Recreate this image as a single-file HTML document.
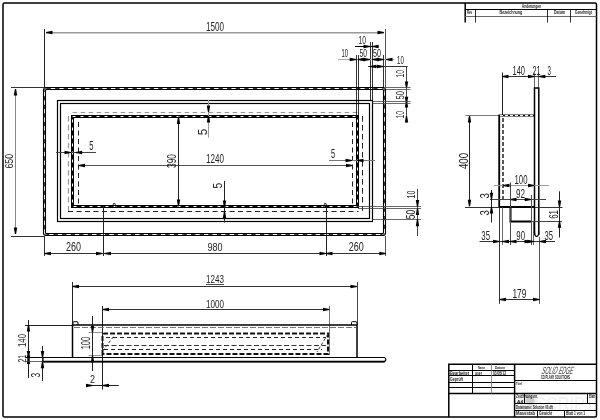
<!DOCTYPE html>
<html><head><meta charset="utf-8"><style>
html,body{margin:0;padding:0;background:#fff;}
svg{display:block;font-family:"Liberation Sans",sans-serif;will-change:transform;}
</style></head><body>
<svg width="600" height="420" viewBox="0 0 600 420">
<rect width="600" height="420" fill="#fff"/>
<rect x="3" y="3" width="593.5" height="414" rx="1.5" stroke="#000" stroke-width="1.5" fill="none"/>
<line x1="465.2" y1="3" x2="465.2" y2="22.6" stroke="#000" stroke-width="1.5"/>
<line x1="465" y1="9.5" x2="596.5" y2="9.5" stroke="#000" stroke-width="1.2"/>
<line x1="465" y1="16.5" x2="596.5" y2="16.5" stroke="#666" stroke-width="1"/>
<line x1="475.5" y1="9" x2="475.5" y2="22.5" stroke="#000" stroke-width="0.8"/>
<line x1="547.5" y1="9" x2="547.5" y2="22.5" stroke="#000" stroke-width="0.8"/>
<line x1="570.5" y1="9" x2="570.5" y2="22.5" stroke="#000" stroke-width="0.8"/>
<text x="521.8" y="7.9" font-size="4.78" textLength="19.300000000000068" lengthAdjust="spacingAndGlyphs" fill="#222" font-weight="bold">Änderungen</text>
<text x="467" y="14" font-size="4.64" textLength="5.199999999999989" lengthAdjust="spacingAndGlyphs" fill="#222" font-weight="bold">Rev</text>
<text x="499.6" y="14" font-size="5.07" textLength="22.699999999999932" lengthAdjust="spacingAndGlyphs" fill="#222" font-weight="bold">Bezeichnung</text>
<text x="553.9" y="14" font-size="4.78" textLength="11.100000000000023" lengthAdjust="spacingAndGlyphs" fill="#222" font-weight="bold">Datum</text>
<text x="574.9" y="14" font-size="4.78" textLength="16.899999999999977" lengthAdjust="spacingAndGlyphs" fill="#222" font-weight="bold">Genehmigt</text>
<rect x="43.5" y="87.5" width="342" height="148" rx="2.5" stroke="#000" stroke-width="1.1" fill="none"/>
<rect x="45.5" y="89.5" width="338" height="144" rx="1" stroke="#000" stroke-width="1.1" fill="none"/>
<rect x="44.5" y="88.5" width="340" height="146" rx="2" stroke="#333" stroke-width="1" fill="none" stroke-dasharray="4.3 4.3"/>
<rect x="57.5" y="100.5" width="315" height="121" rx="0" stroke="#000" stroke-width="1.2" fill="none"/>
<rect x="60.5" y="103.5" width="309" height="115" rx="0" stroke="#000" stroke-width="1.2" fill="none"/>
<rect x="72.5" y="116.5" width="285" height="90" rx="0" stroke="#000" stroke-width="3" fill="none"/>
<rect x="72.5" y="116.5" width="285" height="90" rx="0" stroke="#fff" stroke-width="1" fill="none" stroke-dasharray="3 5"/>
<line x1="72.7" y1="112.5" x2="358" y2="112.5" stroke="#999" stroke-width="1.2" stroke-dasharray="4.5 3.5"/>
<line x1="68.5" y1="116" x2="68.5" y2="211" stroke="#999" stroke-width="1.2" stroke-dasharray="5.5 3.5"/>
<line x1="68" y1="211.5" x2="358.5" y2="211.5" stroke="#222" stroke-width="1" stroke-dasharray="5 3.5"/>
<line x1="78.5" y1="122" x2="78.5" y2="204" stroke="#222" stroke-width="1" stroke-dasharray="5 3.5"/>
<line x1="352.5" y1="122" x2="352.5" y2="204" stroke="#222" stroke-width="1" stroke-dasharray="5 3.5"/>
<line x1="362.5" y1="116" x2="362.5" y2="211" stroke="#222" stroke-width="1" stroke-dasharray="5.5 3.5"/>
<line x1="44.5" y1="29" x2="44.5" y2="88" stroke="#222" stroke-width="1"/>
<line x1="385.5" y1="29" x2="385.5" y2="88" stroke="#555" stroke-width="1"/>
<line x1="46" y1="32.8" x2="384" y2="32.8" stroke="#999" stroke-width="1.4"/>
<polygon points="46,31.9 52.5,30.8 52.5,34.2 46,33.1" fill="#000"/>
<polygon points="384,31.9 377.5,30.8 377.5,34.2 384,33.1" fill="#000"/>
<text x="206" y="31" font-size="13.04" textLength="18" lengthAdjust="spacingAndGlyphs" fill="#222">1500</text>
<line x1="11" y1="87.5" x2="44" y2="87.5" stroke="#333" stroke-width="1"/>
<line x1="11" y1="236.5" x2="44" y2="236.5" stroke="#333" stroke-width="1"/>
<line x1="15.5" y1="89" x2="15.5" y2="234" stroke="#888" stroke-width="1"/>
<polygon points="14.9,89 13.8,95.5 17.2,95.5 16.1,89" fill="#000"/>
<polygon points="14.9,234 13.8,227.5 17.2,227.5 16.1,234" fill="#000"/>
<text transform="translate(8.85,161.2) rotate(-90)" x="-7.3999999999999915" y="4.050000000000001" font-size="11.74" textLength="14.799999999999983" lengthAdjust="spacingAndGlyphs" fill="#222">650</text>
<text x="358.5" y="43.5" font-size="10.87" textLength="7.5" lengthAdjust="spacingAndGlyphs" fill="#222">10</text>
<line x1="355" y1="46.5" x2="378" y2="46.5" stroke="#000" stroke-width="1"/>
<polygon points="370,45.9 363.5,44.8 363.5,48.2 370,47.1" fill="#000"/>
<polygon points="372.2,45.9 378.7,44.8 378.7,48.2 372.2,47.1" fill="#000"/>
<line x1="370.5" y1="42" x2="370.5" y2="101" stroke="#000" stroke-width="0.8"/>
<line x1="372.5" y1="42" x2="372.5" y2="103" stroke="#000" stroke-width="0.8"/>
<text x="341.5" y="56.8" font-size="10.58" textLength="6.5" lengthAdjust="spacingAndGlyphs" fill="#222">10</text>
<text x="359.5" y="56.8" font-size="10.58" textLength="7.5" lengthAdjust="spacingAndGlyphs" fill="#222">50</text>
<text x="373" y="56.8" font-size="10.58" textLength="8" lengthAdjust="spacingAndGlyphs" fill="#222">50</text>
<line x1="338" y1="59.5" x2="394" y2="59.5" stroke="#aaa" stroke-width="1"/>
<polygon points="356.2,58.9 349.7,57.8 349.7,61.2 356.2,60.1" fill="#000"/>
<polygon points="357.8,58.9 364.3,57.8 364.3,61.2 357.8,60.1" fill="#000"/>
<polygon points="370,58.9 363.5,57.8 363.5,61.2 370,60.1" fill="#000"/>
<polygon points="372.2,58.9 378.7,57.8 378.7,61.2 372.2,60.1" fill="#000"/>
<polygon points="383.5,58.9 377.0,57.8 377.0,61.2 383.5,60.1" fill="#000"/>
<polygon points="386,58.9 392.5,57.8 392.5,61.2 386,60.1" fill="#000"/>
<line x1="356.5" y1="55" x2="356.5" y2="116" stroke="#000" stroke-width="0.8"/>
<line x1="358.5" y1="55" x2="358.5" y2="116" stroke="#000" stroke-width="0.8"/>
<line x1="383.5" y1="55" x2="383.5" y2="88" stroke="#000" stroke-width="0.8"/>
<text x="397" y="63.7" font-size="11.59" textLength="6.800000000000011" lengthAdjust="spacingAndGlyphs" fill="#222">10</text>
<line x1="368" y1="66.5" x2="407.6" y2="66.5" stroke="#333" stroke-width="1"/>
<polygon points="370,65.9 376.5,64.8 376.5,68.2 370,67.1" fill="#000"/>
<polygon points="383.5,65.9 377.0,64.8 377.0,68.2 383.5,67.1" fill="#000"/>
<line x1="406.5" y1="66.2" x2="406.5" y2="122.4" stroke="#444" stroke-width="1"/>
<polygon points="405.9,88 404.8,81.5 408.2,81.5 407.1,88" fill="#000"/>
<polygon points="405.9,101 404.8,107.5 408.2,107.5 407.1,101" fill="#000"/>
<polygon points="405.9,103.3 404.8,96.8 408.2,96.8 407.1,103.3" fill="#000"/>
<polygon points="405.9,116 404.8,122.5 408.2,122.5 407.1,116" fill="#000"/>
<line x1="386" y1="87.5" x2="410.5" y2="87.5" stroke="#444" stroke-width="0.8"/>
<line x1="386" y1="89.5" x2="410.5" y2="89.5" stroke="#444" stroke-width="0.8"/>
<line x1="372.5" y1="101.5" x2="410.5" y2="101.5" stroke="#444" stroke-width="0.8"/>
<line x1="372.5" y1="103.5" x2="410.5" y2="103.5" stroke="#444" stroke-width="0.8"/>
<text transform="translate(399.75,73.8) rotate(-90)" x="-3.799999999999997" y="3.75" font-size="10.87" textLength="7.599999999999994" lengthAdjust="spacingAndGlyphs" fill="#222">10</text>
<text transform="translate(399.5,95.25) rotate(-90)" x="-4.25" y="4.0" font-size="11.59" textLength="8.5" lengthAdjust="spacingAndGlyphs" fill="#222">50</text>
<text transform="translate(399.75,114.8) rotate(-90)" x="-3.799999999999997" y="3.75" font-size="10.87" textLength="7.599999999999994" lengthAdjust="spacingAndGlyphs" fill="#222">10</text>
<line x1="56" y1="152.5" x2="96" y2="152.5" stroke="#444" stroke-width="1"/>
<polygon points="71,151.9 64.5,150.8 64.5,154.2 71,153.1" fill="#000"/>
<polygon points="75.7,151.9 82.2,150.8 82.2,154.2 75.7,153.1" fill="#000"/>
<text x="89.3" y="149.7" font-size="12.17" textLength="4.200000000000003" lengthAdjust="spacingAndGlyphs" fill="#222">5</text>
<line x1="78.5" y1="165.5" x2="352.5" y2="165.5" stroke="#555" stroke-width="1"/>
<polygon points="78.5,164.9 85.0,163.8 85.0,167.2 78.5,166.1" fill="#000"/>
<polygon points="352.5,164.9 346.0,163.8 346.0,167.2 352.5,166.1" fill="#000"/>
<text x="206" y="162.5" font-size="12.32" textLength="18" lengthAdjust="spacingAndGlyphs" fill="#222">1240</text>
<line x1="208.5" y1="100" x2="208.5" y2="137.5" stroke="#999" stroke-width="1"/>
<polygon points="207.9,112 206.8,105.5 210.2,105.5 209.1,112" fill="#000"/>
<polygon points="207.9,116 206.8,122.5 210.2,122.5 209.1,116" fill="#000"/>
<text transform="translate(202.25,131.89999999999998) rotate(-90)" x="-3.299999999999997" y="4.25" font-size="12.32" textLength="6.599999999999994" lengthAdjust="spacingAndGlyphs" fill="#222">5</text>
<line x1="178.5" y1="116.5" x2="178.5" y2="206.5" stroke="#222" stroke-width="1"/>
<polygon points="177.9,117.5 176.8,124.0 180.2,124.0 179.1,117.5" fill="#000"/>
<polygon points="177.9,206 176.8,199.5 180.2,199.5 179.1,206" fill="#000"/>
<text transform="translate(171.8,161.0) rotate(-90)" x="-7.0" y="4.3999999999999915" font-size="12.75" textLength="14" lengthAdjust="spacingAndGlyphs" fill="#222">390</text>
<line x1="224.5" y1="181" x2="224.5" y2="222.5" stroke="#222" stroke-width="1"/>
<polygon points="223.9,207 222.8,200.5 226.2,200.5 225.1,207" fill="#000"/>
<polygon points="223.9,211.5 222.8,218.0 226.2,218.0 225.1,211.5" fill="#000"/>
<text transform="translate(217.5,185.55) rotate(-90)" x="-2.8500000000000085" y="4.300000000000011" font-size="12.46" textLength="5.700000000000017" lengthAdjust="spacingAndGlyphs" fill="#222">5</text>
<line x1="329" y1="160.5" x2="375" y2="160.5" stroke="#777" stroke-width="1"/>
<polygon points="352,159.9 345.5,158.8 345.5,162.2 352,161.1" fill="#000"/>
<polygon points="357,159.9 363.5,158.8 363.5,162.2 357,161.1" fill="#000"/>
<text x="331" y="157.7" font-size="12.61" textLength="4.100000000000023" lengthAdjust="spacingAndGlyphs" fill="#222">5</text>
<line x1="357" y1="206.5" x2="421" y2="206.5" stroke="#444" stroke-width="0.8"/>
<line x1="358" y1="208.5" x2="421" y2="208.5" stroke="#444" stroke-width="0.8"/>
<line x1="372.5" y1="219.5" x2="421" y2="219.5" stroke="#444" stroke-width="0.8"/>
<line x1="417.5" y1="189" x2="417.5" y2="236" stroke="#444" stroke-width="1"/>
<polygon points="416.9,206.4 415.8,199.9 419.2,199.9 418.1,206.4" fill="#000"/>
<polygon points="416.9,208.6 415.8,215.1 419.2,215.1 418.1,208.6" fill="#000"/>
<polygon points="416.9,219.3 415.8,226.3 419.2,226.3 418.1,219.3" fill="#000"/>
<text transform="translate(411.15,194.6) rotate(-90)" x="-3.9000000000000057" y="3.8499999999999943" font-size="11.16" textLength="7.800000000000011" lengthAdjust="spacingAndGlyphs" fill="#222">10</text>
<text transform="translate(410.75,214.55) rotate(-90)" x="-4.75" y="4.25" font-size="12.32" textLength="9.5" lengthAdjust="spacingAndGlyphs" fill="#222">50</text>
<line x1="44.5" y1="236" x2="44.5" y2="256" stroke="#333" stroke-width="1"/>
<line x1="103.5" y1="206" x2="103.5" y2="256" stroke="#222" stroke-width="1"/>
<line x1="326.5" y1="206" x2="326.5" y2="256" stroke="#222" stroke-width="1"/>
<line x1="385.5" y1="236" x2="385.5" y2="256" stroke="#555" stroke-width="1"/>
<line x1="44.5" y1="253.5" x2="385.8" y2="253.5" stroke="#333" stroke-width="1"/>
<polygon points="44.5,252.9 51.0,251.8 51.0,255.2 44.5,254.1" fill="#000"/>
<polygon points="102.5,252.9 96.0,251.8 96.0,255.2 102.5,254.1" fill="#000"/>
<polygon points="104.5,252.9 111.0,251.8 111.0,255.2 104.5,254.1" fill="#000"/>
<polygon points="326,252.9 319.5,251.8 319.5,255.2 326,254.1" fill="#000"/>
<polygon points="326,252.9 332.5,251.8 332.5,255.2 326,254.1" fill="#000"/>
<polygon points="385.8,252.9 379.3,251.8 379.3,255.2 385.8,254.1" fill="#000"/>
<text x="66" y="251" font-size="12.32" textLength="15" lengthAdjust="spacingAndGlyphs" fill="#222">260</text>
<text x="207.5" y="251" font-size="11.59" textLength="15.0" lengthAdjust="spacingAndGlyphs" fill="#222">980</text>
<text x="348.8" y="251" font-size="12.32" textLength="15.0" lengthAdjust="spacingAndGlyphs" fill="#222">260</text>
<path d="M112.5,207 L113.5,203.5 L115,203.5 L115.8,207" stroke="#000" stroke-width="0.8" fill="none"/>
<path d="M323.5,207 L324.5,203.5 L326,203.5 L326.8,207" stroke="#000" stroke-width="0.8" fill="none"/>
<line x1="72.5" y1="282" x2="72.5" y2="325" stroke="#222" stroke-width="1"/>
<line x1="357.5" y1="282" x2="357.5" y2="325" stroke="#444" stroke-width="1"/>
<line x1="72.5" y1="286.5" x2="357" y2="286.5" stroke="#333" stroke-width="1"/>
<polygon points="72.5,285.9 79.0,284.8 79.0,288.2 72.5,287.1" fill="#000"/>
<polygon points="357,285.9 350.5,284.8 350.5,288.2 357,287.1" fill="#000"/>
<text x="206" y="283" font-size="11.59" textLength="18" lengthAdjust="spacingAndGlyphs" fill="#222">1243</text>
<line x1="206" y1="284.5" x2="224" y2="284.5" stroke="#222" stroke-width="0.8"/>
<line x1="102.5" y1="306" x2="102.5" y2="389.5" stroke="#222" stroke-width="1"/>
<line x1="329.5" y1="306" x2="329.5" y2="355" stroke="#777" stroke-width="1"/>
<line x1="102.5" y1="309.5" x2="329.5" y2="309.5" stroke="#333" stroke-width="1"/>
<polygon points="102.5,308.9 109.0,307.8 109.0,311.2 102.5,310.1" fill="#000"/>
<polygon points="329.5,308.9 323.0,307.8 323.0,311.2 329.5,310.1" fill="#000"/>
<text x="206" y="307.5" font-size="11.59" textLength="18" lengthAdjust="spacingAndGlyphs" fill="#222">1000</text>
<line x1="25" y1="325.5" x2="72.5" y2="325.5" stroke="#222" stroke-width="1"/>
<path d="M72.5,357.5 L72.5,325 L357,325 L357,357.5" stroke="#000" stroke-width="1.5" fill="none"/>
<path d="M73,325 L73,322.5 Q73,321.7 74,321.7 L77,321.7 Q78,321.7 78,323 L78,325" stroke="#000" stroke-width="1" fill="none"/>
<path d="M351.5,325 L351.5,322.5 Q351.5,321.7 352.5,321.7 L356,321.7 Q357,321.7 357,323 L357,325" stroke="#000" stroke-width="1" fill="none"/>
<path d="M25,357.5 L383.5,357.5 Q385.8,357.5 385.8,359.5 Q385.8,361.7 383.5,361.7 L43,361.7 L43,357.5" stroke="#000" stroke-width="1.2" fill="none"/>
<line x1="43" y1="361.7" x2="385" y2="361.7" stroke="#000" stroke-width="1.8"/>
<line x1="74" y1="327.5" x2="356" y2="327.5" stroke="#777" stroke-width="1" stroke-dasharray="6 2"/>
<path d="M102.5,355 L102.5,336 Q102.5,333.5 105,333.5 L328,333.5 L328,354 L102.5,354" stroke="#111" stroke-width="2" fill="none" stroke-dasharray="5 2"/>
<line x1="106" y1="337.5" x2="326" y2="337.5" stroke="#222" stroke-width="1.2" stroke-dasharray="4 3"/>
<line x1="104" y1="345.5" x2="326" y2="345.5" stroke="#333" stroke-width="1" stroke-dasharray="5 2.5"/>
<line x1="104" y1="349.5" x2="322" y2="349.5" stroke="#222" stroke-width="1.2" stroke-dasharray="4 3"/>
<line x1="102.5" y1="351" x2="114" y2="336" stroke="#333" stroke-width="1" stroke-dasharray="3 2"/>
<line x1="328" y1="334" x2="317" y2="352" stroke="#333" stroke-width="1" stroke-dasharray="3 2"/>
<line x1="88.6" y1="332.5" x2="102" y2="332.5" stroke="#444" stroke-width="0.6"/>
<line x1="88.6" y1="355.5" x2="102" y2="355.5" stroke="#444" stroke-width="0.6"/>
<line x1="92.5" y1="316" x2="92.5" y2="371" stroke="#222" stroke-width="1"/>
<polygon points="91.9,332.3 90.8,325.8 94.2,325.8 93.1,332.3" fill="#000"/>
<polygon points="91.9,355.7 90.8,362.2 94.2,362.2 93.1,355.7" fill="#000"/>
<text transform="translate(86.1,343.05) rotate(-90)" x="-6.25" y="4.300000000000004" font-size="12.46" textLength="12.5" lengthAdjust="spacingAndGlyphs" fill="#222">100</text>
<line x1="28.5" y1="320" x2="28.5" y2="378" stroke="#222" stroke-width="1"/>
<polygon points="27.9,325 26.8,331.5 30.2,331.5 29.1,325" fill="#000"/>
<polygon points="27.9,357.5 26.8,351.0 30.2,351.0 29.1,357.5" fill="#000"/>
<polygon points="27.9,357.5 26.8,364.0 30.2,364.0 29.1,357.5" fill="#000"/>
<polygon points="27.9,361.7 26.8,355.2 30.2,355.2 29.1,361.7" fill="#000"/>
<text transform="translate(22.4,340.5) rotate(-90)" x="-6.5" y="3.9000000000000004" font-size="11.30" textLength="13" lengthAdjust="spacingAndGlyphs" fill="#222">140</text>
<text transform="translate(22.4,358.75) rotate(-90)" x="-3.8500000000000227" y="3.9000000000000004" font-size="11.30" textLength="7.7000000000000455" lengthAdjust="spacingAndGlyphs" fill="#222">21</text>
<line x1="25" y1="361.5" x2="43" y2="361.5" stroke="#444" stroke-width="0.8"/>
<line x1="42.5" y1="346" x2="42.5" y2="381" stroke="#222" stroke-width="1"/>
<polygon points="41.9,357.5 40.8,351.0 44.2,351.0 43.1,357.5" fill="#000"/>
<polygon points="41.9,361.7 40.8,368.2 44.2,368.2 43.1,361.7" fill="#000"/>
<text transform="translate(35.95,375.04999999999995) rotate(-90)" x="-2.3499999999999943" y="4.250000000000002" font-size="12.32" textLength="4.699999999999989" lengthAdjust="spacingAndGlyphs" fill="#222">3</text>
<line x1="87.5" y1="385.5" x2="118.8" y2="385.5" stroke="#222" stroke-width="1"/>
<polygon points="92.5,384.9 86.0,383.8 86.0,387.2 92.5,386.1" fill="#000"/>
<polygon points="102.5,384.9 109.0,383.8 109.0,387.2 102.5,386.1" fill="#000"/>
<text x="90" y="383" font-size="11.59" textLength="5" lengthAdjust="spacingAndGlyphs" fill="#222">2</text>
<line x1="502.5" y1="72.5" x2="502.5" y2="115.5" stroke="#222" stroke-width="1"/>
<line x1="534.5" y1="72.5" x2="534.5" y2="88" stroke="#444" stroke-width="0.8"/>
<line x1="538.5" y1="72.5" x2="538.5" y2="88" stroke="#444" stroke-width="0.8"/>
<line x1="502" y1="76.5" x2="556" y2="76.5" stroke="#333" stroke-width="1"/>
<polygon points="502,75.9 508.5,74.8 508.5,78.2 502,77.1" fill="#000"/>
<polygon points="534.5,75.9 528.0,74.8 528.0,78.2 534.5,77.1" fill="#000"/>
<polygon points="538.8,75.9 545.3,74.8 545.3,78.2 538.8,77.1" fill="#000"/>
<text x="512.5" y="74.5" font-size="12.32" textLength="12.5" lengthAdjust="spacingAndGlyphs" fill="#222">140</text>
<text x="532.5" y="74.5" font-size="12.32" textLength="8.0" lengthAdjust="spacingAndGlyphs" fill="#222">21</text>
<text x="547.5" y="74.5" font-size="12.32" textLength="3.5" lengthAdjust="spacingAndGlyphs" fill="#222">3</text>
<path d="M534.5,235 L534.5,88 L538.8,88 L538.8,235" stroke="#000" stroke-width="1.5" fill="none"/>
<path d="M534.5,231 Q534.5,236.5 536.6,236.5 Q538.8,236.5 538.8,231" stroke="#000" stroke-width="1.2" fill="none"/>
<line x1="465.5" y1="115.5" x2="499" y2="115.5" stroke="#777" stroke-width="1"/>
<path d="M499.2,207 L499.2,115.5 L534.5,115.5" stroke="#000" stroke-width="1.8" fill="none"/>
<line x1="500" y1="115.5" x2="533" y2="115.5" stroke="#fff" stroke-width="1" stroke-dasharray="3 2"/>
<line x1="503" y1="118" x2="503" y2="200" stroke="#222" stroke-width="1.5" stroke-dasharray="4 2"/>
<line x1="469.5" y1="116" x2="469.5" y2="206.2" stroke="#222" stroke-width="1"/>
<polygon points="468.9,116 467.8,122.5 471.2,122.5 470.1,116" fill="#000"/>
<polygon points="468.9,206.2 467.8,199.7 471.2,199.7 470.1,206.2" fill="#000"/>
<text transform="translate(463.05,161.05) rotate(-90)" x="-8.049999999999997" y="4.449999999999989" font-size="12.90" textLength="16.099999999999994" lengthAdjust="spacingAndGlyphs" fill="#222">400</text>
<line x1="465" y1="207.5" x2="562.5" y2="207.5" stroke="#333" stroke-width="1"/>
<line x1="499" y1="207" x2="534.5" y2="207" stroke="#000" stroke-width="1.8"/>
<path d="M510.5,207 L510.5,221.5 L531,221.5" stroke="#000" stroke-width="2" fill="none"/>
<line x1="531.5" y1="207" x2="531.5" y2="221.5" stroke="#222" stroke-width="1"/>
<line x1="531.2" y1="221.5" x2="562" y2="221.5" stroke="#444" stroke-width="1"/>
<line x1="493.8" y1="185.5" x2="548.8" y2="185.5" stroke="#999" stroke-width="1"/>
<polygon points="503,184.9 509.5,183.8 509.5,187.2 503,186.1" fill="#000"/>
<polygon points="534.5,184.9 528.0,183.8 528.0,187.2 534.5,186.1" fill="#000"/>
<text x="514.5" y="183.8" font-size="12.75" textLength="13.0" lengthAdjust="spacingAndGlyphs" fill="#222">100</text>
<line x1="490" y1="199.5" x2="546" y2="199.5" stroke="#444" stroke-width="1"/>
<polygon points="510,198.9 516.5,197.8 516.5,201.2 510,200.1" fill="#000"/>
<polygon points="531.2,198.9 524.7,197.8 524.7,201.2 531.2,200.1" fill="#000"/>
<text x="516" y="197.5" font-size="12.61" textLength="9" lengthAdjust="spacingAndGlyphs" fill="#222">92</text>
<line x1="510.5" y1="182.5" x2="510.5" y2="245" stroke="#444" stroke-width="1"/>
<line x1="531.5" y1="195" x2="531.5" y2="245" stroke="#555" stroke-width="1"/>
<line x1="499.5" y1="207" x2="499.5" y2="303.8" stroke="#333" stroke-width="1"/>
<line x1="539.5" y1="237" x2="539.5" y2="303.8" stroke="#555" stroke-width="1"/>
<line x1="502.5" y1="207" x2="502.5" y2="245" stroke="#444" stroke-width="0.8"/>
<line x1="533.5" y1="221" x2="533.5" y2="245" stroke="#444" stroke-width="0.8"/>
<line x1="491.5" y1="190" x2="491.5" y2="222.5" stroke="#222" stroke-width="1"/>
<polygon points="490.9,199.3 489.8,192.8 493.2,192.8 492.1,199.3" fill="#000"/>
<polygon points="490.9,207 489.8,213.5 493.2,213.5 492.1,207" fill="#000"/>
<text transform="translate(484.5,195.89999999999998) rotate(-90)" x="-2.700000000000003" y="4.5" font-size="13.04" textLength="5.400000000000006" lengthAdjust="spacingAndGlyphs" fill="#222">3</text>
<text transform="translate(484.5,212.85) rotate(-90)" x="-2.6500000000000057" y="4.5" font-size="13.04" textLength="5.300000000000011" lengthAdjust="spacingAndGlyphs" fill="#222">3</text>
<line x1="559.5" y1="191.3" x2="559.5" y2="237.5" stroke="#222" stroke-width="1"/>
<polygon points="558.9,207 557.8,200.5 561.2,200.5 560.1,207" fill="#000"/>
<polygon points="558.9,221.3 557.8,227.8 561.2,227.8 560.1,221.3" fill="#000"/>
<text transform="translate(553.15,214.4) rotate(-90)" x="-4.400000000000006" y="4.350000000000023" font-size="12.61" textLength="8.800000000000011" lengthAdjust="spacingAndGlyphs" fill="#222">61</text>
<line x1="479.5" y1="241.5" x2="555" y2="241.5" stroke="#333" stroke-width="1"/>
<polygon points="499.5,240.9 493.0,239.8 493.0,243.2 499.5,242.1" fill="#000"/>
<polygon points="510,240.9 516.5,239.8 516.5,243.2 510,242.1" fill="#000"/>
<polygon points="531,240.9 524.5,239.8 524.5,243.2 531,242.1" fill="#000"/>
<polygon points="539.5,240.9 546.0,239.8 546.0,243.2 539.5,242.1" fill="#000"/>
<polygon points="502.5,240.9 509.0,239.8 509.0,243.2 502.5,242.1" fill="#000"/>
<polygon points="533.8,240.9 527.3,239.8 527.3,243.2 533.8,242.1" fill="#000"/>
<text x="481.3" y="239.5" font-size="11.88" textLength="8.699999999999989" lengthAdjust="spacingAndGlyphs" fill="#222">35</text>
<text x="516.3" y="239.5" font-size="11.88" textLength="8.700000000000045" lengthAdjust="spacingAndGlyphs" fill="#222">90</text>
<text x="544.5" y="239.5" font-size="11.88" textLength="8.5" lengthAdjust="spacingAndGlyphs" fill="#222">35</text>
<line x1="499.5" y1="299.5" x2="539.5" y2="299.5" stroke="#333" stroke-width="1"/>
<polygon points="499.5,298.9 506.0,297.8 506.0,301.2 499.5,300.1" fill="#000"/>
<polygon points="539.5,298.9 533.0,297.8 533.0,301.2 539.5,300.1" fill="#000"/>
<text x="512.5" y="298" font-size="12.32" textLength="13.799999999999955" lengthAdjust="spacingAndGlyphs" fill="#222">179</text>
<circle cx="527" cy="403" r="10" fill="#eee"/>
<circle cx="530" cy="400.5" r="4.5" fill="#ccc"/>
<text x="535" y="410" font-size="18.84" textLength="60" lengthAdjust="spacingAndGlyphs" fill="#f0f0f0">SCRIPT</text>
<path d="M448.8,417 L448.8,364.3 L596.5,364.3" stroke="#000" stroke-width="1.5" fill="none"/>
<line x1="514.6" y1="364.3" x2="514.6" y2="417" stroke="#000" stroke-width="1.5"/>
<line x1="448.8" y1="370.5" x2="514.6" y2="370.5" stroke="#000" stroke-width="1.2"/>
<line x1="448.8" y1="375.5" x2="514.6" y2="375.5" stroke="#000" stroke-width="1.2"/>
<line x1="448.8" y1="382.5" x2="514.6" y2="382.5" stroke="#000" stroke-width="1.2"/>
<line x1="448.8" y1="387.5" x2="514.6" y2="387.5" stroke="#000" stroke-width="1.2"/>
<line x1="448.8" y1="393.6" x2="596.5" y2="393.6" stroke="#000" stroke-width="1.5"/>
<line x1="472.5" y1="364.3" x2="472.5" y2="393.6" stroke="#000" stroke-width="1"/>
<line x1="491.5" y1="364.3" x2="491.5" y2="393.6" stroke="#777" stroke-width="0.8"/>
<line x1="514.6" y1="380.5" x2="596.5" y2="380.5" stroke="#000" stroke-width="1.2"/>
<line x1="514.6" y1="403.5" x2="596.5" y2="403.5" stroke="#000" stroke-width="1"/>
<line x1="514.6" y1="410.5" x2="596.5" y2="410.5" stroke="#000" stroke-width="1"/>
<line x1="524.5" y1="393.6" x2="524.5" y2="403.7" stroke="#000" stroke-width="1"/>
<line x1="587.5" y1="393.6" x2="587.5" y2="403.7" stroke="#000" stroke-width="1"/>
<line x1="537.5" y1="410.2" x2="537.5" y2="417" stroke="#000" stroke-width="1"/>
<line x1="564.5" y1="410.2" x2="564.5" y2="417" stroke="#000" stroke-width="1"/>
<text transform="translate(539.9,373.9) skewX(-18)" x="1.09" y="0" font-size="10.58" textLength="31.5" lengthAdjust="spacingAndGlyphs" fill="#444">SOLID EDGE</text>
<text x="541" y="378.8" font-size="5.80" textLength="29" lengthAdjust="spacingAndGlyphs" fill="#111" font-weight="bold">CO PLANY SOLUTIONS</text>
<text x="478" y="369" font-size="4.35" textLength="7" lengthAdjust="spacingAndGlyphs" fill="#222" font-weight="bold">Name</text>
<text x="495" y="369" font-size="4.35" textLength="10" lengthAdjust="spacingAndGlyphs" fill="#222" font-weight="bold">Datum</text>
<text x="450" y="375" font-size="4.93" textLength="19" lengthAdjust="spacingAndGlyphs" fill="#222" font-weight="bold">Bearbeitet</text>
<text x="475" y="375" font-size="4.93" textLength="7" lengthAdjust="spacingAndGlyphs" fill="#222" font-weight="bold">user</text>
<text x="493" y="375" font-size="4.93" textLength="13" lengthAdjust="spacingAndGlyphs" fill="#222" font-weight="bold">03/05/12</text>
<text x="450" y="381" font-size="5.80" textLength="13" lengthAdjust="spacingAndGlyphs" fill="#222" font-weight="bold">Geprüft</text>
<text x="516" y="385" font-size="4.35" textLength="6" lengthAdjust="spacingAndGlyphs" fill="#222" font-weight="bold">Titel</text>
<text x="516" y="398" font-size="4.64" textLength="22" lengthAdjust="spacingAndGlyphs" fill="#222" font-weight="bold">Zeichnungsnr.</text>
<text x="517" y="402.5" font-size="4.35" textLength="6" lengthAdjust="spacingAndGlyphs" fill="#222" font-weight="bold">A4</text>
<text x="589" y="398" font-size="4.64" textLength="6" lengthAdjust="spacingAndGlyphs" fill="#222" font-weight="bold">Blatt</text>
<text x="516" y="409" font-size="5.80" textLength="37" lengthAdjust="spacingAndGlyphs" fill="#222" font-weight="bold">Dateiname: Solution 00.dft</text>
<text x="516" y="415" font-size="5.07" textLength="19" lengthAdjust="spacingAndGlyphs" fill="#222" font-weight="bold">Massstab</text>
<text x="539" y="415" font-size="5.07" textLength="13" lengthAdjust="spacingAndGlyphs" fill="#222" font-weight="bold">Gewicht</text>
<text x="566" y="415" font-size="5.07" textLength="19" lengthAdjust="spacingAndGlyphs" fill="#222" font-weight="bold">Blatt 1 von 1</text>
</svg></body></html>
